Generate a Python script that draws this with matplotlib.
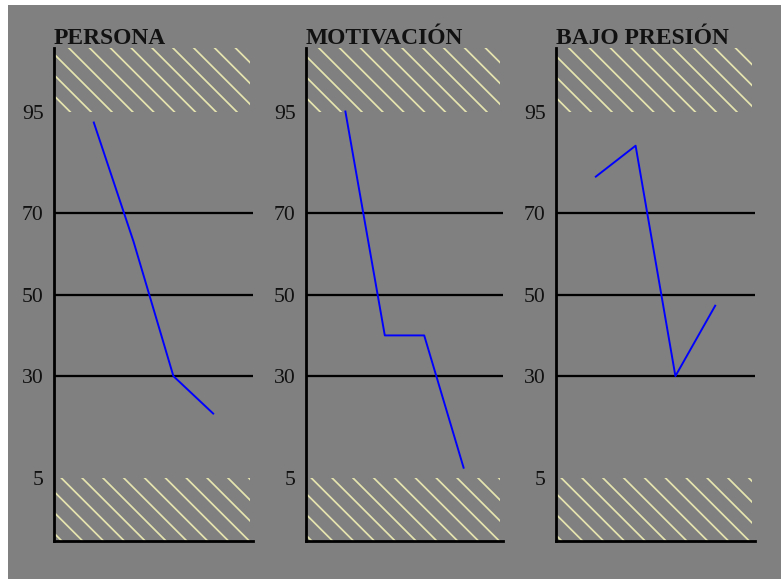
import matplotlib.pyplot as plt
from matplotlib.patches import Rectangle

# values
titles = ['PERSONA', 'MOTIVACIÓN', 'BAJO PRESIÓN']
persona = [92.3, 63, 30, 20.8]
motivacion = [95, 40, 40, 7.5]
bajo_presion = [79, 86.6, 30, 47.3]
series = [persona, motivacion, bajo_presion]
x_pos = [1, 2, 3, 4]

y_ticks = [5, 30, 50, 70, 95]
ref_lines = [30, 50, 70]
band_low = (-10.5, 5)
band_high = (95, 110.6)

GRAY = '#808080'
HATCH = '#e6e5b0'

W, H, DPI = 781, 579, 125
fig = plt.figure(figsize=(W / DPI, H / DPI), dpi=DPI, facecolor='white')
fig.patches.append(Rectangle((8 / W, 0), 1 - 8 / W, 1 - 5 / H,
                             transform=fig.transFigure, facecolor=GRAY,
                             edgecolor='none', zorder=-5))

plt.rcParams['hatch.color'] = HATCH
plt.rcParams['hatch.linewidth'] = 1.0

lefts = [54, 306, 556]
widths = [199, 197, 199]
bottom = 1 - 541 / H
height = (541 - 48) / H

for left, width, title, vals in zip(lefts, widths, titles, series):
    ax = fig.add_axes([left / W, bottom, width / W, height])
    ax.set_facecolor(GRAY)
    ax.set_xlim(0, 5)
    ax.set_ylim(band_low[0], band_high[1])

    for lo, hi in (band_low, band_high):
        ax.axhspan(lo, hi, xmax=0.985, facecolor='none', edgecolor=HATCH,
                   hatch='\\\\', linewidth=0, zorder=1)
    for v in ref_lines:
        ax.axhline(v, color='black', lw=1.3, zorder=2)

    ax.plot(x_pos, vals, color='#0000ff', lw=1.1, zorder=3)

    for side in ('top', 'right'):
        ax.spines[side].set_visible(False)
    for side in ('left', 'bottom'):
        ax.spines[side].set_linewidth(1.6)
        ax.spines[side].set_color('black')
    ax.set_xticks([])
    ax.set_yticks(y_ticks)
    ax.set_yticklabels([str(t) for t in y_ticks], family='Liberation Serif',
                       fontsize=12.5)
    ax.tick_params(axis='y', length=0, pad=6, colors='#111111')

    ax.text(0, 1 + 4 / 493, title, transform=ax.transAxes, ha='left',
            va='baseline', family='Liberation Serif', fontsize=13.5,
            fontweight='bold', color='#111111')

fig.savefig('out.png', dpi=DPI, facecolor=fig.get_facecolor())
